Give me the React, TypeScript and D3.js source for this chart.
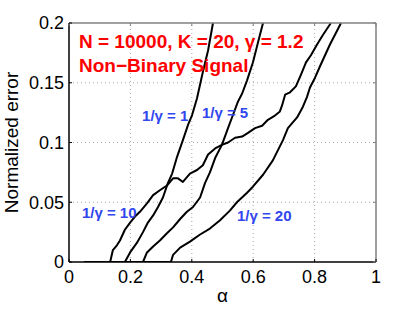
import React from 'react'
import * as d3 from 'd3'

// curves: [alpha, normalized error]
const curveG1 = [
  [0.05, 0], [0.182, 0], [0.199, 0.008], [0.221, 0.016], [0.241, 0.025], [0.257, 0.033],
  [0.274, 0.039], [0.29, 0.046], [0.306, 0.054], [0.322, 0.066], [0.336, 0.074],
  [0.352, 0.088], [0.371, 0.102], [0.388, 0.115], [0.401, 0.123], [0.417, 0.137],
  [0.436, 0.159], [0.453, 0.177], [0.469, 0.2],
]
const curveG5 = [
  [0.05, 0], [0.241, 0], [0.254, 0.008], [0.274, 0.013], [0.296, 0.018], [0.319, 0.024],
  [0.339, 0.029], [0.362, 0.036], [0.384, 0.042], [0.404, 0.046], [0.427, 0.054],
  [0.443, 0.066], [0.459, 0.075], [0.476, 0.087], [0.498, 0.098], [0.518, 0.112],
  [0.534, 0.123], [0.55, 0.134], [0.564, 0.141], [0.58, 0.152], [0.599, 0.167],
  [0.616, 0.184], [0.632, 0.2],
]
const curveG10 = [
  [0.05, 0], [0.134, 0], [0.143, 0.01], [0.156, 0.014], [0.166, 0.018], [0.182, 0.027],
  [0.199, 0.033], [0.215, 0.038], [0.231, 0.042], [0.254, 0.049], [0.274, 0.056],
  [0.296, 0.06], [0.319, 0.064], [0.339, 0.07], [0.355, 0.07], [0.371, 0.067],
  [0.394, 0.074], [0.417, 0.077], [0.436, 0.081], [0.453, 0.09], [0.476, 0.095],
  [0.498, 0.098], [0.518, 0.1], [0.541, 0.104], [0.564, 0.105], [0.583, 0.108],
  [0.606, 0.112], [0.629, 0.114], [0.648, 0.119], [0.668, 0.122], [0.687, 0.126],
  [0.694, 0.131], [0.704, 0.14], [0.72, 0.142], [0.739, 0.147], [0.756, 0.157],
  [0.772, 0.167], [0.788, 0.173], [0.808, 0.182], [0.827, 0.19], [0.853, 0.2],
]
const curveG20 = [
  [0.05, 0], [0.332, 0], [0.339, 0.006], [0.362, 0.012], [0.394, 0.017], [0.427, 0.023],
  [0.459, 0.028], [0.492, 0.035], [0.524, 0.043], [0.547, 0.05], [0.58, 0.058],
  [0.599, 0.063], [0.632, 0.073], [0.664, 0.085], [0.697, 0.102], [0.713, 0.112],
  [0.743, 0.121], [0.762, 0.13], [0.775, 0.138], [0.785, 0.146], [0.801, 0.154],
  [0.818, 0.164], [0.834, 0.173], [0.85, 0.182], [0.866, 0.19], [0.886, 0.2],
]

const xTicks = [0, 0.2, 0.4, 0.6, 0.8, 1]
const yTicks = [0, 0.05, 0.1, 0.15, 0.2]
const xTickLabels = ['0', '0.2', '0.4', '0.6', '0.8', '1']
const yTickLabels = ['0', '0.05', '0.1', '0.15', '0.2']

// label text and anchor in data units
const curveLabels = [
  { text: '1/γ = 1', at: [0.238, 0.118] },
  { text: '1/γ = 5', at: [0.433, 0.1205] },
  { text: '1/γ = 10', at: [0.042, 0.0368] },
  { text: '1/γ = 20', at: [0.547, 0.0343] },
]
const titleLines = ['N = 10000, K = 20, γ = 1.2', 'Non−Binary Signal']

const W = 415
const H = 309
const margin = { left: 69, right: 39, top: 23, bottom: 47 }
const font = '"Liberation Sans", Arial, Helvetica, sans-serif'

export default function App () {
  const x = d3.scaleLinear().domain([0, 1]).range([margin.left, W - margin.right])
  const y = d3.scaleLinear().domain([0, 0.2]).range([H - margin.bottom, margin.top])
  const line = d3.line<number[]>().x(d => x(d[0])).y(d => y(d[1]))
  const [x0, x1] = x.range()
  const [y0, y1] = y.range()
  const curves = [curveG1, curveG5, curveG10, curveG20]

  return (
    <svg width={W} height={H} style={{ position: 'absolute', left: 0, top: 0, background: '#fff' }}
      fontFamily={font}>
      <defs>
        <clipPath id='plot'>
          <rect x={x0} y={y1 - 1} width={x1 - x0} height={y0 - y1 + 1} />
        </clipPath>
      </defs>
      <rect x={0} y={0} width={W} height={H} fill='#fff' />
      {/* grid */}
      <g stroke='#a8a8a8' strokeWidth={1} strokeDasharray='1 3'>
        {xTicks.slice(1, -1).map(t => (
          <line key={'gx' + t} x1={x(t)} x2={x(t)} y1={y0} y2={y1} />
        ))}
        {yTicks.slice(1, -1).map(t => (
          <line key={'gy' + t} x1={x0} x2={x1} y1={y(t)} y2={y(t)} />
        ))}
      </g>
      {/* curves */}
      <g clipPath='url(#plot)' fill='none' stroke='#000' strokeWidth={2} strokeLinejoin='round'>
        {curves.map((c, i) => <path key={i} d={line(c) ?? ''} />)}
      </g>
      {/* box */}
      <line x1={x0} x2={x1} y1={y1} y2={y1} stroke='#808080' strokeWidth={1.5} />
      <line x1={x1} x2={x1} y1={y1} y2={y0} stroke='#808080' strokeWidth={1.5} />
      <line x1={x0} x2={x1} y1={y0} y2={y0} stroke='#000' strokeWidth={1.5} />
      <line x1={x0} x2={x0} y1={y1} y2={y0} stroke='#000' strokeWidth={1.5} />
      {/* ticks */}
      <g stroke='#000' strokeWidth={1}>
        {xTicks.map(t => (
          <g key={'tx' + t}>
            <line x1={x(t)} x2={x(t)} y1={y0} y2={y0 - 3} />
            <line x1={x(t)} x2={x(t)} y1={y1} y2={y1 + 3} stroke='#808080' />
          </g>
        ))}
        {yTicks.map(t => (
          <g key={'ty' + t}>
            <line x1={x0} x2={x0 + 3} y1={y(t)} y2={y(t)} />
            <line x1={x1} x2={x1 - 3} y1={y(t)} y2={y(t)} stroke='#808080' />
          </g>
        ))}
      </g>
      <g fontSize={18} fill='#000'>
        {xTicks.map((t, i) => (
          <text key={'lx' + t} x={x(t)} y={y0 + 21} textAnchor='middle'>{xTickLabels[i]}</text>
        ))}
        {yTicks.map((t, i) => (
          <text key={'ly' + t} x={x0 - 5} y={y(t)} dy='0.35em' textAnchor='end'>{yTickLabels[i]}</text>
        ))}
      </g>
      <text x={(x0 + x1) / 2} y={302} textAnchor='middle' fontSize={19}>α</text>
      <text transform={`translate(18, ${(y0 + y1) / 2}) rotate(-90)`} textAnchor='middle' fontSize={19}>
        Normalized error
      </text>
      {/* annotations */}
      <g fill='#ff0000' fontWeight='bold' fontSize={19}>
        {titleLines.map((s, i) => (
          <text key={i} x={x(0.0326)} y={y(0.179) + i * 24}>{s}</text>
        ))}
      </g>
      <g fill='#3046ee' fontWeight='bold' fontSize={15}>
        {curveLabels.map(l => (
          <text key={l.text} x={x(l.at[0])} y={y(l.at[1])}>{l.text}</text>
        ))}
      </g>
    </svg>
  )
}
